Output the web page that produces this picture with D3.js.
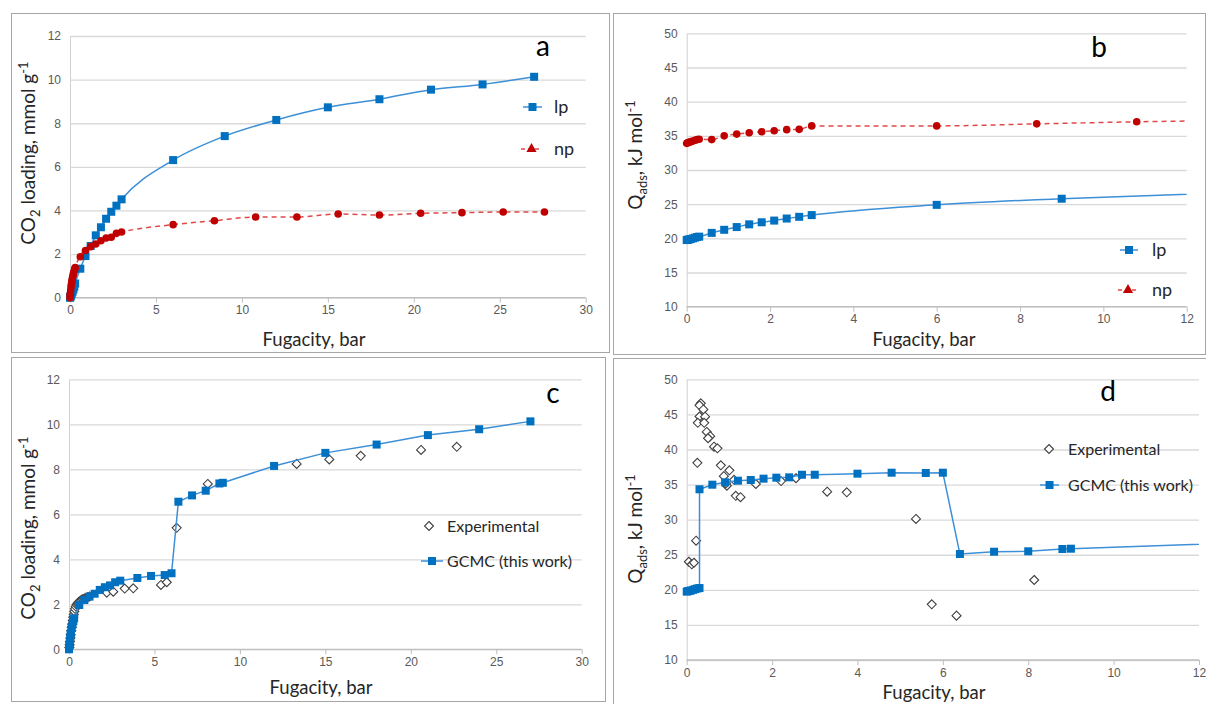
<!DOCTYPE html>
<html><head><meta charset="utf-8">
<script src="https://cdn.jsdelivr.net/npm/d3@7"></script>
<style>body{margin:0;background:#fff}svg{display:block}</style>
</head><body><svg id="chart" width="1206" height="704"></svg>
<script>
// ---------- Data ----------
const aXTicks = [0,5,10,15,20,25,30];
const aYTicks = [0,2,4,6,8,10,12];
const bXTicks = [0,2,4,6,8,10,12];
const bYTicks = [10,15,20,25,30,35,40,45,50];

// panel a : CO2 loading, lp and np
const aLpX = [0,0.01,0.03,0.05,0.1,0.15,0.2,0.25,0.3,0.6,0.9,1.2,1.5,1.8,2.1,2.4,2.7,3,6,9,12,15,18,21,24,27];
const aLpY = [0,0.02,0.05,0.08,0.17,0.27,0.38,0.5,0.65,1.33,1.91,2.37,2.86,3.23,3.62,3.94,4.22,4.51,6.31,7.41,8.15,8.73,9.1,9.54,9.78,10.13];
const aNpX = [0,0.01,0.02,0.04,0.06,0.08,0.1,0.12,0.15,0.18,0.2,0.22,0.25,0.28,0.3,0.6,0.9,1.2,1.5,1.8,2.1,2.4,2.7,3,6,8.4,10.8,13.2,15.6,18,20.4,22.8,25.2,27.6];
const aNpY = [0,0.1,0.2,0.35,0.5,0.62,0.72,0.82,0.93,1.03,1.1,1.17,1.25,1.32,1.38,1.88,2.16,2.34,2.46,2.61,2.74,2.77,2.95,3.01,3.35,3.53,3.7,3.7,3.84,3.79,3.87,3.9,3.93,3.93];

// panel b : Qads, lp and np
const bLpX = [0,0.03,0.06,0.1,0.15,0.2,0.25,0.3,0.6,0.9,1.2,1.5,1.8,2.1,2.4,2.7,3,6,9,15];
const bLpY = [19.75,19.8,19.85,19.9,20.0,20.1,20.2,20.25,20.8,21.25,21.65,22.05,22.35,22.6,22.9,23.15,23.4,24.9,25.8,27.1];
const bNpX = [0,0.03,0.06,0.1,0.15,0.2,0.25,0.3,0.6,0.9,1.2,1.5,1.8,2.1,2.4,2.7,3,6,8.4,10.8,13.2];
const bNpY = [33.9,34.0,34.05,34.15,34.25,34.35,34.45,34.5,34.45,35.0,35.25,35.45,35.6,35.75,35.9,35.95,36.45,36.45,36.75,37.05,37.25];

// panel c : CO2 loading, experimental vs GCMC
const cGcmcX = [0,0.02,0.05,0.08,0.1,0.15,0.2,0.25,0.3,0.6,0.9,1.2,1.5,1.8,2.1,2.4,2.7,3,4,4.8,5.6,6,6.4,7.2,8,8.8,9,12,15,18,21,24,27];
const cGcmcY = [0,0.15,0.35,0.55,0.7,0.95,1.1,1.25,1.38,1.97,2.19,2.34,2.47,2.64,2.76,2.84,2.98,3.05,3.17,3.26,3.3,3.38,6.56,6.84,7.05,7.37,7.4,8.15,8.73,9.1,9.52,9.78,10.13];
const cExpX = [0.02,0.04,0.06,0.08,0.1,0.13,0.16,0.19,0.22,0.25,0.28,0.31,0.35,0.4,0.45,0.5,0.55,0.6,0.67,0.74,0.82,0.9,1.0,1.1,1.2,2.21,2.59,3.26,3.76,5.38,5.72,6.3,8.12,13.32,15.23,17.07,20.6,22.69];
const cExpY = [0.08,0.2,0.35,0.5,0.65,0.82,0.98,1.12,1.28,1.42,1.55,1.68,1.8,1.9,1.98,2.04,2.08,2.12,2.16,2.2,2.23,2.26,2.29,2.32,2.35,2.52,2.56,2.7,2.71,2.86,2.98,5.4,7.35,8.24,8.44,8.6,8.86,9.0];

// panel d : Qads, experimental vs GCMC
const dGcmcX = [0,0.03,0.06,0.1,0.15,0.2,0.25,0.3,0.3,0.6,0.9,1.2,1.5,1.8,2.1,2.4,2.7,3,4,4.8,5.6,6,6.4,7.2,8,8.8,9,15];
const dGcmcY = [19.75,19.8,19.85,19.9,20.0,20.1,20.2,20.25,34.33,34.98,35.32,35.55,35.65,35.84,35.98,36.03,36.4,36.4,36.55,36.69,36.65,36.69,25.1,25.43,25.49,25.82,25.86,27.1];
const dExpX = [0.33,0.3,0.39,0.3,0.43,0.26,0.41,0.47,0.55,0.5,0.64,0.72,0.25,0.8,1.0,0.87,1.11,0.94,0.92,1.15,1.26,1.62,2.21,2.56,3.29,3.75,0.22,0.05,0.12,0.17,5.37,5.74,6.32,8.14];
const dExpY = [46.58,46.3,45.7,44.7,44.67,43.8,43.8,42.5,41.9,41.6,40.4,40.17,38.1,37.75,37.03,36.2,35.68,34.83,35.2,33.4,33.2,35.08,35.5,35.9,33.98,33.9,27.0,24.0,23.64,23.86,30.1,17.94,16.32,21.4];

const zip = (xs, ys) => xs.map((x, i) => [x, ys[i]]);

// ---------- Styles ----------
const BLUE = "#0070c0", BLUE_LINE = "#3d8fd6";
const RED = "#c00000", RED_LINE = "#e04848";
const TITLE_FONT = "Lato, 'Open Sans', sans-serif";
const TICK_FONT = "'Liberation Sans', Arial, sans-serif";

const svg = d3.select("#chart");
let clipId = 0;

function drawPanel(o) {
  const g = svg.append("g");
  g.append("rect").attr("x", o.box[0] + 0.5).attr("y", o.box[1] + 0.5)
    .attr("width", o.box[2]).attr("height", o.box[3])
    .attr("fill", "#fff").attr("stroke", "#a6a6a6").attr("stroke-width", 1);

  const x = d3.scaleLinear().domain(o.xd).range(o.px);
  const y = d3.scaleLinear().domain(o.yd).range([o.py[1], o.py[0]]);

  // y axis with gridlines
  const yAx = g.append("g").attr("transform", `translate(${o.px[0]},0)`)
    .call(d3.axisLeft(y).tickValues(o.yt).tickSize(-(o.gridRight - o.px[0])).tickSizeOuter(0).tickPadding(9));
  yAx.select(".domain").attr("stroke", "#d0d0d0");
  yAx.selectAll(".tick line").attr("stroke", "#d9d9d9").attr("stroke-width", 1.3);
  yAx.selectAll(".tick text").attr("fill", "#595959").style("font", `12px ${TICK_FONT}`);

  // x axis
  const xAx = g.append("g").attr("transform", `translate(0,${o.py[1]})`)
    .call(d3.axisBottom(x).tickValues(o.xt).tickSize(5).tickSizeOuter(0).tickPadding(3));
  xAx.select(".domain").attr("stroke", "#bfbfbf").attr("stroke-width", 1.3)
    .attr("d", `M${o.px[0]},0H${o.gridRight}`);
  xAx.selectAll(".tick line").attr("stroke", "#bfbfbf");
  xAx.selectAll(".tick text").attr("fill", "#595959").style("font", `12px ${TICK_FONT}`);

  // titles
  g.append("text").attr("x", o.xtitle[0]).attr("y", o.xtitle[1])
    .attr("text-anchor", "middle").attr("fill", "#262626")
    .style("font", `18.5px ${TITLE_FONT}`).text("Fugacity, bar");

  const yt = g.append("text").attr("transform", `translate(${o.ytitle[0]},${o.ytitle[1]}) rotate(-90)`)
    .attr("y", 7).attr("text-anchor", "middle").attr("fill", "#262626")
    .style("font", `19px ${TITLE_FONT}`);
  if (o.ylab === "co2") {
    yt.append("tspan").text("CO");
    yt.append("tspan").attr("dy", 5).style("font-size", "13px").text("2");
    yt.append("tspan").attr("dy", -5).text(" loading, mmol g");
    yt.append("tspan").attr("dy", -7).style("font-size", "13px").text("-1");
  } else {
    yt.append("tspan").text("Q");
    yt.append("tspan").attr("dy", 5).style("font-size", "13px").text("ads");
    yt.append("tspan").attr("dy", -5).text(", kJ mol");
    yt.append("tspan").attr("dy", -7).style("font-size", "13px").text("-1");
  }

  g.append("text").attr("x", o.letter[0]).attr("y", o.letter[1]).attr("dy", "0.35em")
    .attr("text-anchor", "middle").attr("fill", "#000")
    .style("font", `28px ${TITLE_FONT}`).text(o.name);

  // clip
  const cid = "clip" + (clipId++);
  svg.append("defs").append("clipPath").attr("id", cid).append("rect")
    .attr("x", o.px[0] - 10).attr("y", o.py[0] - 10)
    .attr("width", o.px[1] - o.px[0] + 10).attr("height", o.py[1] - o.py[0] + 20);
  const plot = g.append("g").attr("clip-path", `url(#${cid})`);

  o.series.forEach(s => {
    const pts = zip(s.x, s.y);
    if (s.line) {
      plot.append("path").datum(pts)
        .attr("d", d3.line().x(d => x(d[0])).y(d => y(d[1])).curve(s.curve || d3.curveLinear))
        .attr("fill", "none").attr("stroke", s.lineColor).attr("stroke-width", 1.5)
        .attr("stroke-dasharray", s.dash || null);
    }
    const mk = plot.append("g");
    if (s.marker === "square") {
      mk.selectAll("rect").data(pts).join("rect")
        .attr("x", d => x(d[0]) - 4).attr("y", d => y(d[1]) - 4)
        .attr("width", 8).attr("height", 8).attr("fill", BLUE);
    } else if (s.marker === "circle") {
      mk.selectAll("circle").data(pts).join("circle")
        .attr("cx", d => x(d[0])).attr("cy", d => y(d[1])).attr("r", 3.8).attr("fill", RED);
    } else if (s.marker === "diamond") {
      mk.selectAll("path").data(pts).join("path")
        .attr("d", d => { const cx = x(d[0]), cy = y(d[1]); return `M${cx},${cy-4.5}L${cx+4.5},${cy}L${cx},${cy+4.5}L${cx-4.5},${cy}Z`; })
        .attr("fill", "#fff").attr("stroke", "#404040").attr("stroke-width", 1.1);
    }
  });

  // legend
  o.legend.forEach(L => {
    const lg = g.append("g");
    if (L.type === "lp") {
      lg.append("line").attr("x1", L.x1).attr("x2", L.x2).attr("y1", L.y).attr("y2", L.y)
        .attr("stroke", BLUE_LINE).attr("stroke-width", 1.5);
      const mx = (L.x1 + L.x2) / 2;
      lg.append("rect").attr("x", mx - 4).attr("y", L.y - 4).attr("width", 8).attr("height", 8).attr("fill", BLUE);
    } else if (L.type === "np") {
      lg.append("line").attr("x1", L.x1).attr("x2", L.x2).attr("y1", L.y).attr("y2", L.y)
        .attr("stroke", RED_LINE).attr("stroke-width", 1.5).attr("stroke-dasharray", "4,3");
      const mx = (L.x1 + L.x2) / 2;
      lg.append("path").attr("transform", `translate(${mx},${L.y})`)
        .attr("d", d3.symbol(d3.symbolTriangle, 45)()).attr("fill", RED);
    } else if (L.type === "exp") {
      const cx = L.mx, cy = L.y;
      lg.append("path").attr("d", `M${cx},${cy-4.5}L${cx+4.5},${cy}L${cx},${cy+4.5}L${cx-4.5},${cy}Z`)
        .attr("fill", "#fff").attr("stroke", "#404040").attr("stroke-width", 1.1);
    }
    lg.append("text").attr("x", L.tx).attr("y", L.y).attr("dy", "0.35em").attr("fill", "#262626")
      .style("font", `${L.fs}px ${TITLE_FONT}`).text(L.label);
  });
}

drawPanel({
  name: "a", box: [11, 13, 598, 339], px: [70, 585.7], py: [36, 297.7], gridRight: 585.7,
  xd: [0, 30], yd: [0, 12], xt: aXTicks, yt: aYTicks,
  letter: [543, 46], xtitle: [314, 346], ytitle: [28, 153], ylab: "co2",
  series: [
    {x: aLpX, y: aLpY, line: true, lineColor: BLUE_LINE, curve: d3.curveMonotoneX, marker: "square"},
    {x: aNpX, y: aNpY, line: true, lineColor: RED_LINE, dash: "5,4", curve: d3.curveMonotoneX, marker: "circle"}
  ],
  legend: [
    {type: "lp", x1: 523, x2: 542, y: 107, tx: 554, label: "lp", fs: 18},
    {type: "np", x1: 521, x2: 542, y: 149, tx: 554, label: "np", fs: 18}
  ]
});

drawPanel({
  name: "b", box: [613, 13, 592, 341], px: [686.7, 1186.7], py: [33.3, 306.7], gridRight: 1186.7,
  xd: [0, 12], yd: [10, 50], xt: bXTicks, yt: bYTicks,
  letter: [1099, 47], xtitle: [924, 346], ytitle: [635, 155], ylab: "q",
  series: [
    {x: bLpX, y: bLpY, line: true, lineColor: BLUE_LINE, curve: d3.curveMonotoneX, marker: "square"},
    {x: bNpX, y: bNpY, line: true, lineColor: RED_LINE, dash: "5,4", curve: d3.curveMonotoneX, marker: "circle"}
  ],
  legend: [
    {type: "lp", x1: 1120, x2: 1138, y: 250, tx: 1152, label: "lp", fs: 18},
    {type: "np", x1: 1118, x2: 1138, y: 290, tx: 1152, label: "np", fs: 18}
  ]
});

drawPanel({
  name: "c", box: [11, 357, 594, 344], px: [69, 581.7], py: [379.3, 649.3], gridRight: 581.7,
  xd: [0, 30], yd: [0, 12], xt: aXTicks, yt: aYTicks,
  letter: [553, 393], xtitle: [321, 694], ytitle: [28, 528], ylab: "co2",
  series: [
    {x: cExpX, y: cExpY, line: false, marker: "diamond"},
    {x: cGcmcX, y: cGcmcY, line: true, lineColor: BLUE_LINE, marker: "square"}
  ],
  legend: [
    {type: "exp", mx: 429, y: 526, tx: 447, label: "Experimental", fs: 16},
    {type: "lp", x1: 421, x2: 443, y: 561, tx: 447, label: "GCMC (this work)", fs: 16}
  ]
});

drawPanel({
  name: "d", box: [613, 358, 600, 350], px: [686.7, 1199], py: [379.3, 660], gridRight: 1199,
  xd: [0, 12], yd: [10, 50], xt: bXTicks, yt: bYTicks,
  letter: [1108, 391], xtitle: [934, 699], ytitle: [635, 529], ylab: "q",
  series: [
    {x: dExpX, y: dExpY, line: false, marker: "diamond"},
    {x: dGcmcX, y: dGcmcY, line: true, lineColor: BLUE_LINE, marker: "square"}
  ],
  legend: [
    {type: "exp", mx: 1049, y: 449, tx: 1068, label: "Experimental", fs: 16},
    {type: "lp", x1: 1040, x2: 1059, y: 485, tx: 1068, label: "GCMC (this work)", fs: 16}
  ]
});
</script></body></html>
